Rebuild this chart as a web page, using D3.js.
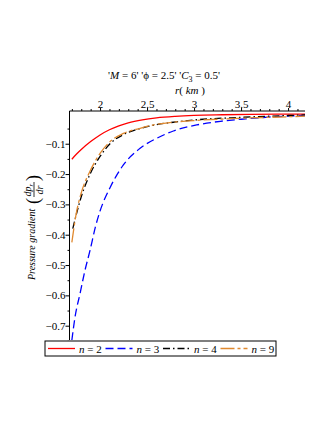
<!DOCTYPE html>
<html>
<head>
<meta charset="utf-8">
<script src="https://cdn.jsdelivr.net/npm/d3@7"></script>
<style>
  body { margin: 0; background: #fff; }
  text { font-family: "Liberation Serif", "DejaVu Serif", serif; }
</style>
</head>
<body>
<div id="chart"></div>
<script>
// values
var rN2 = [1.70, 1.75, 1.80, 1.90, 2.00, 2.10, 2.20, 2.30, 2.45, 2.60, 2.80, 3.00, 3.30, 3.60, 4.00, 4.18];
var pN2 = [-0.151, -0.134, -0.119, -0.093, -0.071, -0.054, -0.041, -0.031, -0.021, -0.0145, -0.0095, -0.0065, -0.0045, -0.0033, -0.0025, -0.0022];

var rN3 = [1.70, 1.734, 1.787, 1.84, 1.894, 1.95, 2.00, 2.106, 2.248, 2.426, 2.603, 2.78, 3.03, 3.28, 3.55, 3.80, 4.18];
var pN3 = [-0.748, -0.671, -0.594, -0.517, -0.451, -0.375, -0.322, -0.245, -0.170, -0.115, -0.082, -0.058, -0.038, -0.026, -0.018, -0.012, -0.007];

var rN4 = [1.71, 1.75, 1.80, 1.894, 2.00, 2.106, 2.248, 2.426, 2.603, 2.81, 3.03, 3.50, 4.00, 4.18];
var pN4 = [-0.380, -0.330, -0.275, -0.200, -0.142, -0.100, -0.070, -0.050, -0.037, -0.028, -0.021, -0.013, -0.007, -0.005];

var rN9 = [1.70, 1.75, 1.80, 1.894, 2.00, 2.106, 2.248, 2.426, 2.603, 2.81, 3.03, 3.50, 4.00, 4.18];
var pN9 = [-0.425, -0.325, -0.262, -0.190, -0.132, -0.093, -0.066, -0.049, -0.036, -0.028, -0.023, -0.016, -0.011, -0.009];

var xTicks = [2, 2.5, 3, 3.5, 4];
var xMinor = [1.7, 1.8, 1.9, 2.1, 2.2, 2.3, 2.4, 2.6, 2.7, 2.8, 2.9, 3.1, 3.2, 3.3, 3.4, 3.6, 3.7, 3.8, 3.9, 4.1];
var yTicks = [-0.1, -0.2, -0.3, -0.4, -0.5, -0.6, -0.7];
var yMinor = [-0.05, -0.15, -0.25, -0.35, -0.45, -0.55, -0.65, -0.75];

var legendLabels = ["2", "3", "4", "9"];

var W = 332, H = 430;
var plotL = 69.5, plotR = 305, plotT = 111, plotB = 340;

var svg = d3.select("#chart").append("svg")
    .attr("width", W)
    .attr("height", H);

var x = d3.scaleLinear().domain([1.675, 4.18]).range([plotL, plotR]);
var y = d3.scaleLinear().domain([0, -0.7]).range([113.4, 325.7]);

svg.append("clipPath").attr("id", "clip")
  .append("rect")
    .attr("x", plotL).attr("y", plotT)
    .attr("width", plotR - plotL).attr("height", plotB - plotT);

var series = [
  {r: rN2, p: pN2, color: "#ff0000", dash: null},
  {r: rN3, p: pN3, color: "#0000ff", dash: "8,4"},
  {r: rN4, p: pN4, color: "#000000", dash: "7,3,1.5,3"},
  {r: rN9, p: pN9, color: "#e0892f", dash: "14,3,3,3"}
];

var line = d3.line()
    .x(function(d) { return x(d[0]); })
    .y(function(d) { return y(d[1]); })
    .curve(d3.curveMonotoneX);

svg.append("g").attr("clip-path", "url(#clip)")
  .selectAll("path")
  .data(series)
  .enter().append("path")
    .attr("d", function(s) { return line(d3.zip(s.r, s.p)); })
    .attr("fill", "none")
    .attr("stroke", function(s) { return s.color; })
    .attr("stroke-width", 1.3)
    .attr("stroke-dasharray", function(s) { return s.dash; });

// axes
var fmt = function(d) { return String(d).replace("-", "\u2212"); };

var xAxis = svg.append("g")
    .attr("transform", "translate(0," + plotT + ")")
    .call(d3.axisTop(x).tickValues(xTicks).tickSize(3).tickFormat(fmt));
svg.append("g")
    .attr("transform", "translate(0," + plotT + ")")
    .call(d3.axisTop(x).tickValues(xMinor).tickSize(2).tickFormat(""))
    .select(".domain").remove();

var yAxis = svg.append("g")
    .attr("transform", "translate(" + plotL + ",0)")
    .call(d3.axisLeft(y).tickValues(yTicks).tickSize(4).tickFormat(fmt));
svg.append("g")
    .attr("transform", "translate(" + plotL + ",0)")
    .call(d3.axisLeft(y).tickValues(yMinor).tickSize(2).tickFormat(""))
    .select(".domain").remove();

xAxis.select(".domain").attr("d", "M" + plotL + ",0H" + plotR);
yAxis.select(".domain").attr("d", "M0," + plotT + "V" + plotB);

svg.selectAll(".tick text")
    .style("font-family", "Liberation Serif, serif")
    .style("font-size", "11px")
    .attr("fill", "#000");
svg.selectAll(".domain, .tick line").attr("stroke", "#000");
xAxis.selectAll(".tick text").attr("y", -3.5);
yAxis.selectAll(".tick text").attr("x", -4);

// title
var title = svg.append("text")
    .attr("x", 164).attr("y", 79)
    .attr("text-anchor", "middle")
    .style("font-size", "11px");
title.append("tspan").text("'");
title.append("tspan").style("font-style", "italic").text("M");
title.append("tspan").text(" = 6' '\u03d5 = 2.5' '");
title.append("tspan").style("font-style", "italic").text("C");
title.append("tspan").attr("dy", 3).style("font-size", "8px").text("3");
title.append("tspan").attr("dy", -3).text(" = 0.5'");

var xl = svg.append("text")
    .attr("x", 190).attr("y", 94)
    .attr("text-anchor", "middle")
    .style("font-size", "11px");
xl.append("tspan").style("font-style", "italic").text("r");
xl.append("tspan").text("( ");
xl.append("tspan").style("font-style", "italic").text("km");
xl.append("tspan").text(" )");

// y label, written along the rotated axis
var yl = svg.append("g").attr("transform", "translate(35,280) rotate(-90)");
yl.append("text")
    .attr("x", 0).attr("y", 0)
    .style("font-size", "10px")
    .style("font-style", "italic")
    .text("Pressure gradient");
yl.append("text")
    .attr("x", 76).attr("y", 4)
    .style("font-size", "18px")
    .style("font-weight", "lighter")
    .text("(");
yl.append("text")
    .attr("x", 90).attr("y", -4)
    .attr("text-anchor", "middle")
    .style("font-size", "10px")
    .style("font-style", "italic")
    .html("dp<tspan dy='2' font-size='7px'>r</tspan>");
yl.append("line")
    .attr("x1", 83).attr("x2", 98)
    .attr("y1", -1).attr("y2", -1)
    .attr("stroke", "#000").attr("stroke-width", 0.8);
yl.append("text")
    .attr("x", 90).attr("y", 8)
    .attr("text-anchor", "middle")
    .style("font-size", "10px")
    .style("font-style", "italic")
    .text("dr");
yl.append("text")
    .attr("x", 99).attr("y", 4)
    .style("font-size", "18px")
    .style("font-weight", "lighter")
    .text(")");

// legend
var lg = svg.append("g").attr("transform", "translate(45,341)");
lg.append("rect")
    .attr("width", 231).attr("height", 15)
    .attr("fill", "#fff")
    .attr("stroke", "#000").attr("stroke-width", 1);

var item = lg.selectAll(".item")
    .data(series)
    .enter().append("g")
    .attr("class", "item")
    .attr("transform", function(d, i) { return "translate(" + (3 + i * 57.5) + ",7.5)"; });
item.append("line")
    .attr("x1", 0).attr("x2", 27)
    .attr("stroke", function(d) { return d.color; })
    .attr("stroke-width", 1.3)
    .attr("stroke-dasharray", function(d) { return d.dash; });
var lt = item.append("text")
    .attr("x", 31).attr("y", 4)
    .style("font-size", "11px");
lt.append("tspan").style("font-style", "italic").text("n");
lt.append("tspan").text(function(d, i) { return " = " + legendLabels[i]; });
</script>
</body>
</html>
